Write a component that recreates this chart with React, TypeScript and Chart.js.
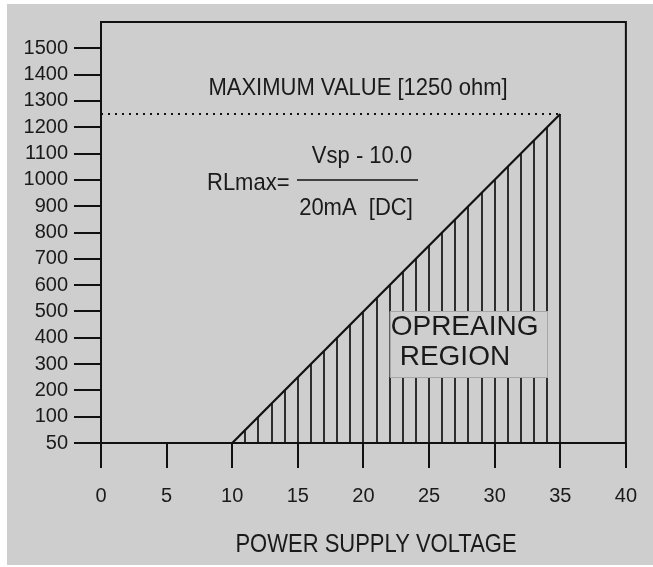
import React, { useEffect, useRef } from 'react';
import { Chart, registerables } from 'chart.js';

Chart.register(...registerables);

// ---- data ----
const lineVoltages = [10, 35];
const lineResistances = [0, 1250];
const maxResistance = 1250;
const maxLineVoltages = [0, 35];
const xTickValues = [0, 5, 10, 15, 20, 25, 30, 35, 40];
const yTickValues = [0, 100, 200, 300, 400, 500, 600, 700, 800, 900, 1000, 1100, 1200, 1300, 1400, 1500];
const yTickLabels = ['50', '100', '200', '300', '400', '500', '600', '700', '800', '900', '1000', '1100', '1200', '1300', '1400', '1500'];
const hatchVoltages = [11, 12, 13, 14, 15, 16, 17, 18, 19, 20, 21, 22, 23, 24, 25, 26, 27, 28, 29, 30, 31, 32, 33, 34, 35];
const xTitle = 'POWER SUPPLY VOLTAGE';
const maxLabel = 'MAXIMUM VALUE [1250 ohm]';
const formulaLeft = 'RLmax=';
const formulaTop = 'Vsp - 10.0';
const formulaBottom = '20mA  [DC]';
const regionLines = ['OPREAING', 'REGION'];

const FONT = "'Liberation Sans', Arial, Helvetica, sans-serif";
const BG = '#cecece';
const INK = '#111111';
const TEXT = '#1a1a1a';

function lineValueAt(v: number): number {
  for (let i = 0; i < lineVoltages.length - 1; i++) {
    const x0 = lineVoltages[i], x1 = lineVoltages[i + 1];
    if (v >= x0 && v <= x1) {
      const t = (v - x0) / (x1 - x0);
      return lineResistances[i] + t * (lineResistances[i + 1] - lineResistances[i]);
    }
  }
  return 0;
}

function stretchedText(ctx: any, text: string, x: number, y: number, sy: number) {
  ctx.save();
  ctx.translate(x, y);
  ctx.scale(1, sy);
  ctx.fillText(text, 0, 0);
  ctx.restore();
}

const decorPlugin = {
  id: 'decor',
  beforeDraw(chart: any) {
    const { ctx, width, height } = chart;
    ctx.save();
    ctx.fillStyle = '#ffffff';
    ctx.fillRect(0, 0, width, height);
    ctx.fillStyle = BG;
    ctx.fillRect(7, 4, width - 7, height - 6);
    ctx.restore();
  },
  beforeDatasetsDraw(chart: any) {
    const { ctx } = chart;
    const xs = chart.scales.x, ys = chart.scales.y;
    ctx.save();
    ctx.strokeStyle = INK;
    ctx.lineWidth = 1.7;
    const yb = ys.getPixelForValue(0);
    hatchVoltages.forEach((v) => {
      const px = Math.round(xs.getPixelForValue(v));
      const top = ys.getPixelForValue(lineValueAt(v));
      ctx.beginPath();
      ctx.moveTo(px, yb);
      ctx.lineTo(px, top);
      ctx.stroke();
    });
    ctx.restore();
  },
  afterDatasetsDraw(chart: any) {
    const { ctx, chartArea } = chart;
    const xs = chart.scales.x, ys = chart.scales.y;
    ctx.save();
    ctx.strokeStyle = INK;
    ctx.lineWidth = 2;
    ctx.beginPath();
    ctx.moveTo(chartArea.left, chartArea.top);
    ctx.lineTo(chartArea.right, chartArea.top);
    ctx.lineTo(chartArea.right, chartArea.bottom);
    ctx.stroke();

    // operating region box
    const bx0 = xs.getPixelForValue(22), bx1 = xs.getPixelForValue(34);
    const by0 = ys.getPixelForValue(500), by1 = ys.getPixelForValue(250);
    ctx.fillStyle = BG;
    ctx.fillRect(bx0, by0, bx1 - bx0, by1 - by0);
    ctx.strokeStyle = '#a6a6a6';
    ctx.lineWidth = 1;
    ctx.strokeRect(Math.round(bx0) + 0.5, Math.round(by0) + 0.5, Math.round(bx1 - bx0), Math.round(by1 - by0));

    ctx.fillStyle = TEXT;
    ctx.textBaseline = 'middle';
    ctx.font = `28px ${FONT}`;
    ctx.textAlign = 'left';
    ctx.fillText(regionLines[0], bx0 + 1, by0 + 16);
    ctx.fillText(regionLines[1], bx0 + 10, by0 + 46);

    ctx.font = `22px ${FONT}`;
    ctx.textAlign = 'center';
    stretchedText(ctx, maxLabel, 358, 88, 1.12);

    ctx.textAlign = 'left';
    stretchedText(ctx, formulaLeft, 207, 183, 1.12);
    ctx.textAlign = 'center';
    stretchedText(ctx, formulaTop, 362, 156, 1.12);
    stretchedText(ctx, formulaBottom, 356, 208, 1.12);
    ctx.strokeStyle = INK;
    ctx.lineWidth = 1.5;
    ctx.beginPath();
    ctx.moveTo(297, 180);
    ctx.lineTo(418, 180);
    ctx.stroke();

    ctx.textAlign = 'center';
    stretchedText(ctx, xTitle, 376, 545, 1.2);
    ctx.restore();
  },
};

export default function App() {
  const ref = useRef<HTMLCanvasElement | null>(null);
  useEffect(() => {
    if (!ref.current) return;
    const chart = new Chart(ref.current, {
      type: 'line',
      data: {
        datasets: [
          {
            label: 'RLmax',
            data: lineVoltages.map((v, i) => ({ x: v, y: lineResistances[i] })),
            borderColor: INK,
            borderWidth: 2.2,
            pointRadius: 0,
            fill: false,
            tension: 0,
          },
          {
            label: 'Maximum',
            data: maxLineVoltages.map((v) => ({ x: v, y: maxResistance })),
            borderColor: INK,
            borderWidth: 2,
            borderDash: [2, 5],
            pointRadius: 0,
            fill: false,
          },
        ],
      },
      options: {
        animation: false,
        responsive: false,
        devicePixelRatio: 1,
        layout: { padding: { top: 22, right: 21, left: 0, bottom: 0 } },
        plugins: { legend: { display: false }, tooltip: { enabled: false } },
        scales: {
          x: {
            type: 'linear',
            min: 0,
            max: 40,
            afterBuildTicks: (s: any) => { s.ticks = xTickValues.map((v) => ({ value: v })); },
            afterFit: (s: any) => { s.height = 124; },
            grid: { drawOnChartArea: false, drawTicks: true, tickLength: 25, color: INK, lineWidth: 2 },
            border: { display: true, color: INK, width: 2 },
            ticks: { font: { family: FONT, size: 20 }, color: TEXT, padding: 16, maxRotation: 0, autoSkip: false },
          },
          y: {
            type: 'linear',
            min: 0,
            max: 1600,
            afterBuildTicks: (s: any) => { s.ticks = yTickValues.map((v) => ({ value: v })); },
            afterFit: (s: any) => { s.width = 101; },
            grid: { drawOnChartArea: false, drawTicks: true, tickLength: 27, color: INK, lineWidth: 2 },
            border: { display: true, color: INK, width: 2 },
            ticks: {
              font: { family: FONT, size: 20 },
              color: TEXT,
              padding: 6,
              autoSkip: false,
              callback: (value: any) => {
                const i = yTickValues.indexOf(Number(value));
                return i >= 0 ? yTickLabels[i] : '';
              },
            },
          },
        },
      },
      plugins: [decorPlugin],
    });
    return () => chart.destroy();
  }, []);
  return (
    <canvas
      ref={ref}
      width={653}
      height={567}
      style={{ position: 'fixed', left: 0, top: 0, width: 653, height: 567, display: 'block' }}
    />
  );
}
